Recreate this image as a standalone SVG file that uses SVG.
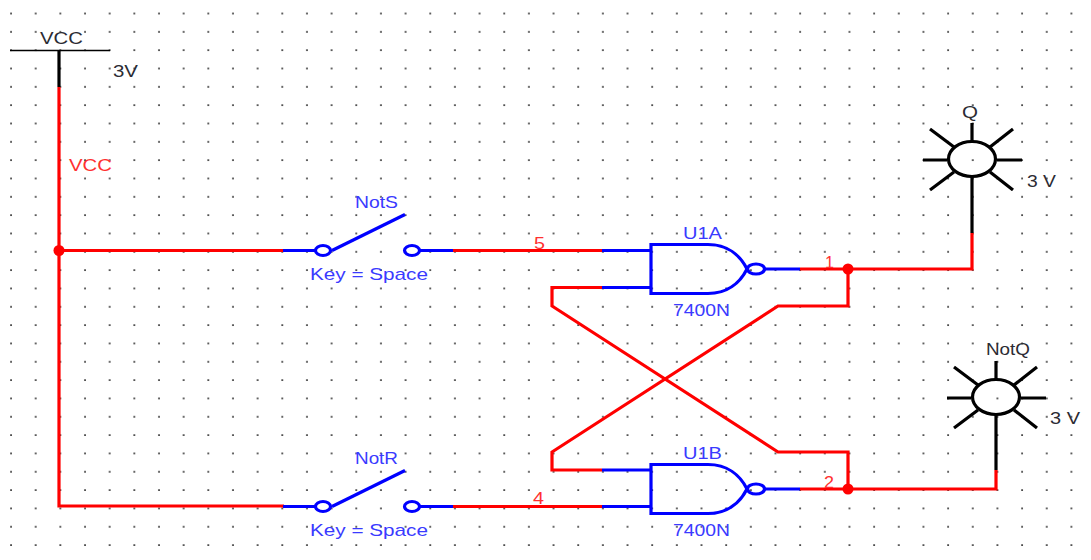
<svg xmlns="http://www.w3.org/2000/svg" width="1091" height="560" viewBox="0 0 1091 560">
<style>
text{font-family:"Liberation Sans",Arial,sans-serif;font-size:17px}
.k{fill:#2b2b33}.b{fill:#3a3aff}.r{fill:#ff3030}
.wr,.wb,.wk{fill:none;stroke-linejoin:miter;stroke-linecap:butt}
.wr{stroke:#ff0000;stroke-width:3.2}
.wb{stroke:#0000ff;stroke-width:3.2}
.wk{stroke:#000;stroke-width:3.2}
.j{fill:#ff0000;stroke:none}
</style>
<defs>
<pattern id="grid" patternUnits="userSpaceOnUse" x="10" y="12.5" width="24.66" height="18.33">
<rect x="0.2" y="0.2" width="1.7" height="1.7" fill="#333"/>
</pattern>
<g id="gate"><path class="wb" d="M708,1.5H651V50.500H708C727,50.500 740,40 747,26C740,12 727,1.500 708,1.500Z"/><ellipse class="wb" cx="756" cy="26" rx="8.500" ry="5"/></g>
<g id="sw"><ellipse class="wb" cx="323" cy="0" rx="7.500" ry="5"/><ellipse class="wb" cx="412" cy="0" rx="7.500" ry="5"/><path class="wb" d="M332,0L405,-36"/></g>
<g id="lamp"><ellipse class="wk" cx="972" cy="159" rx="23.500" ry="17.500"/><path class="wk" d="M972,123V141M923,160H947M997,160H1022M930,129L954,147M1013,129L990,147M930,190L954,172M1013,190L990,172"/></g>
</defs>
<rect width="1091" height="560" fill="#fff"/>
<rect x="8" y="10" width="1070" height="540" fill="url(#grid)"/>
<g id="connectors">
<path class="wk" d="M59,50V87"/>
<path class="wr" d="M59,87V506H284"/>
<path class="wr" d="M59,250.500H284"/>
<path class="wb" d="M283,250.500H316M420,250.500H453"/>
<path class="wr" d="M453,250.500H602"/>
<path class="wb" d="M602,250.500H651M602,287.500H651"/>
<path class="wb" d="M283,506.500H316M420,506.500H453"/>
<path class="wr" d="M453,506.500H602"/>
<path class="wb" d="M602,506.500H651M602,470H651"/>
<path class="wb" d="M765,269H800M765,489H800"/>
<path class="wr" d="M800,269H972V233"/>
<path class="wk" d="M972,233V176"/>
<path class="wr" d="M800,489H996V470"/>
<path class="wk" d="M996,470V415"/>
<path class="wr" d="M602,287.500H552V306L778,452H848V489"/>
<path class="wr" d="M602,470H552V452L778,306H848V269"/>
<circle class="j" cx="59" cy="250.500" r="5.500"/>
<circle class="j" cx="848" cy="269" r="5.500"/>
<circle class="j" cx="848" cy="489" r="5.500"/>
</g>
<g id="vcc"><path d="M10,50.500H110" stroke="#000" stroke-width="1.500" fill="none"/>
<text class="k" x="40" y="44" textLength="43" lengthAdjust="spacingAndGlyphs">VCC</text>
<text class="k" x="113" y="77" textLength="25" lengthAdjust="spacingAndGlyphs">3V</text></g>
<g id="net-labels">
<text class="r" x="69" y="171" textLength="43" lengthAdjust="spacingAndGlyphs">VCC</text>
<text class="r" x="534" y="249" textLength="11" lengthAdjust="spacingAndGlyphs">5</text>
<text class="r" x="825" y="268" textLength="9" lengthAdjust="spacingAndGlyphs">1</text>
<text class="r" x="824" y="488" textLength="10" lengthAdjust="spacingAndGlyphs">2</text>
<text class="r" x="533" y="504" textLength="11" lengthAdjust="spacingAndGlyphs">4</text>
</g>
<g id="switch-s"><use href="#sw" y="250.500"/>
<text class="b" x="355" y="208" textLength="43" lengthAdjust="spacingAndGlyphs">NotS</text>
<text class="b" x="310" y="280" textLength="118" lengthAdjust="spacingAndGlyphs">Key = Space</text></g>
<g id="switch-r"><use href="#sw" y="506.500"/>
<text class="b" x="355" y="464" textLength="43" lengthAdjust="spacingAndGlyphs">NotR</text>
<text class="b" x="310" y="536" textLength="118" lengthAdjust="spacingAndGlyphs">Key = Space</text></g>
<g id="u1a"><use href="#gate" y="243"/>
<text class="b" x="683" y="239" textLength="39" lengthAdjust="spacingAndGlyphs">U1A</text>
<text class="b" x="673" y="316" textLength="57" lengthAdjust="spacingAndGlyphs">7400N</text></g>
<g id="u1b"><use href="#gate" y="463"/>
<text class="b" x="683" y="459" textLength="39" lengthAdjust="spacingAndGlyphs">U1B</text>
<text class="b" x="673" y="536" textLength="57" lengthAdjust="spacingAndGlyphs">7400N</text></g>
<g id="lamp-q"><use href="#lamp"/>
<text class="k" x="962" y="118" textLength="16" lengthAdjust="spacingAndGlyphs">Q</text>
<text class="k" x="1027" y="187" textLength="29" lengthAdjust="spacingAndGlyphs">3 V</text></g>
<g id="lamp-notq"><use href="#lamp" x="24" y="238"/>
<text class="k" x="986" y="355" textLength="44" lengthAdjust="spacingAndGlyphs">NotQ</text>
<text class="k" x="1050" y="424" textLength="30" lengthAdjust="spacingAndGlyphs">3 V</text></g>
</svg>
